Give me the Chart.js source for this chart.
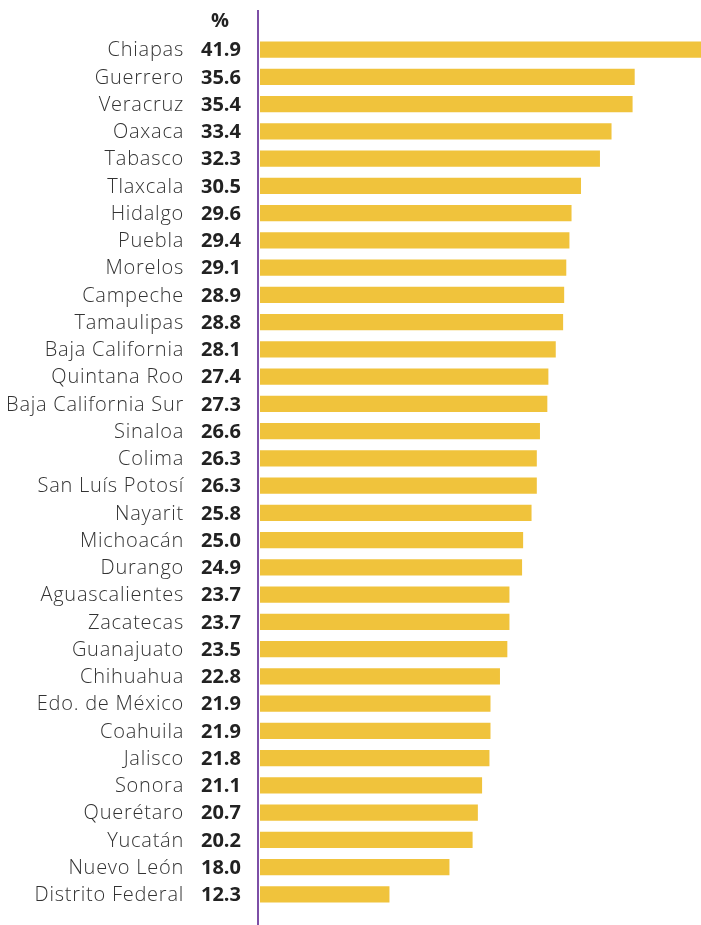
<!DOCTYPE html>
<html><head><meta charset="utf-8">
<script src="https://cdn.jsdelivr.net/npm/chart.js@4/dist/chart.umd.min.js"></script>
<style>html,body{margin:0;padding:0;background:#fff}#wrap{width:701px;height:925px;position:relative}</style>
</head><body><div id="wrap"><canvas id="c"></canvas></div>
<script>
const states = ["Chiapas","Guerrero","Veracruz","Oaxaca","Tabasco","Tlaxcala","Hidalgo","Puebla","Morelos","Campeche","Tamaulipas","Baja California","Quintana Roo","Baja California Sur","Sinaloa","Colima","San Luís Potosí","Nayarit","Michoacán","Durango","Aguascalientes","Zacatecas","Guanajuato","Chihuahua","Edo. de México","Coahuila","Jalisco","Sonora","Querétaro","Yucatán","Nuevo León","Distrito Federal"];
const values = [41.9,35.6,35.4,33.4,32.3,30.5,29.6,29.4,29.1,28.9,28.8,28.1,27.4,27.3,26.6,26.3,26.3,25.8,25.0,24.9,23.7,23.7,23.5,22.8,21.9,21.9,21.8,21.1,20.7,20.2,18.0,12.3];
const unitLabel = "%";

const FONT = "'Open Sans', Lato, sans-serif";
const labelsPlugin = {
  id: 'labelsPlugin',
  afterDraw(chart) {
    const ctx = chart.ctx;
    const y = chart.scales.y;
    const area = chart.chartArea;
    ctx.save();
    ctx.strokeStyle = '#7d4fa6';
    ctx.lineWidth = 2;
    ctx.beginPath();
    ctx.moveTo(area.left - 2, 10);
    ctx.lineTo(area.left - 2, chart.height);
    ctx.stroke();
    ctx.textBaseline = 'middle';
    states.forEach((s, i) => {
      const py = y.getPixelForValue(i);
      ctx.font = "300 20px " + FONT;
      ctx.letterSpacing = '0.75px';
      ctx.fillStyle = '#333333';
      ctx.textAlign = 'right';
      ctx.fillText(s, 184, py + 1);
      ctx.letterSpacing = '0px';
      ctx.font = "bold 20px " + FONT;
      ctx.fillStyle = '#222222';
      ctx.fillText(values[i].toFixed(1), 241, py + 1);
    });
    ctx.font = "bold 20px " + FONT;
    ctx.fillStyle = '#222222';
    ctx.textAlign = 'center';
    ctx.fillText(unitLabel, 220, 21);
    ctx.restore();
  }
};

new Chart(document.getElementById('c'), {
  type: 'bar',
  data: { labels: states, datasets: [{ data: values, backgroundColor: '#f0c33c', borderWidth: 0, barPercentage: 0.95, categoryPercentage: 0.62 }] },
  options: {
    indexAxis: 'y',
    responsive: true,
    maintainAspectRatio: false,
    animation: false,
    layout: { padding: { left: 260, top: 36, bottom: 17, right: 0 } },
    plugins: { legend: { display: false }, tooltip: { enabled: false } },
    scales: {
      x: { display: false, min: 0, max: 41.9 },
      y: { display: false }
    }
  },
  plugins: [labelsPlugin]
});
</script></body></html>
